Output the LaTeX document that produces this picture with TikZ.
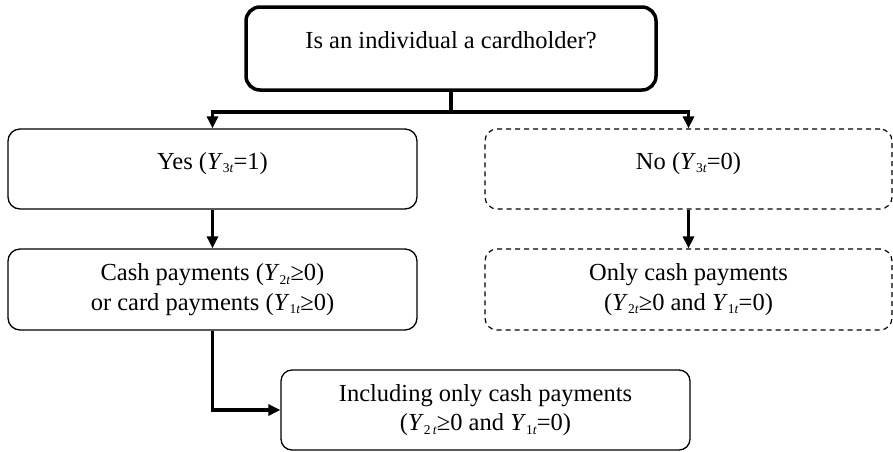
\documentclass[tikz,border=0pt]{standalone}
\usepackage{fontspec}
\setmainfont{Liberation Serif}
\usetikzlibrary{arrows.meta}
\newcommand{\Ysb}[1]{\textit{Y}\raisebox{-3.5pt}{\fontsize{13.5}{13.5}\selectfont #1}}
\tikzset{
  base/.style={rectangle, rounded corners=12pt, align=center, inner sep=0pt,
    font=\fontsize{24.5}{29.5}\selectfont},
  solidbox/.style={base, draw, line width=1.3pt},
  dashbox/.style={base, draw, line width=1.2pt, dash pattern=on 5pt off 4pt},
  topbox/.style={base, draw, line width=3.5pt, rounded corners=14pt},
  oneline/.style={text height=17pt, text depth=17pt},
  conn/.style={line width=3.2pt, -{Triangle[length=12pt,width=11pt]}},
  plainconn/.style={line width=3.2pt}
}
\begin{document}
\begin{tikzpicture}[x=1pt,y=-1pt]
\useasboundingbox (0,0) rectangle (893,451);
\node[topbox, oneline, minimum width=410pt, minimum height=83pt] (top) at (451,48.5)
  {Is an individual a cardholder?};
\node[solidbox, oneline, minimum width=409pt, minimum height=80pt] (yes) at (212.5,169)
  {Yes (\Ysb{3\textit{t}}=1)};
\node[dashbox, oneline, minimum width=407pt, minimum height=80pt] (no) at (688.5,169)
  {No (\Ysb{3\textit{t}}=0)};
\node[solidbox, minimum width=409pt, minimum height=81pt] (cash) at (212.5,289.5)
  {Cash payments (\Ysb{2\textit{t}}≥0)\\or card payments (\Ysb{1\textit{t}}≥0)};
\node[dashbox, minimum width=407pt, minimum height=81pt] (only) at (688.5,289.5)
  {Only cash payments\\(\Ysb{2\textit{t}}≥0 and \Ysb{1\textit{t}}=0)};
\node[solidbox, rounded corners=11pt, minimum width=409pt, minimum height=80pt] (incl) at (485.5,410)
  {Including only cash payments\\(\Ysb{2\,\textit{t}}≥0 and \Ysb{1\textit{t}}=0)};
\coordinate (split) at (451,112);
\draw[plainconn] (top.south) -- (split);
\draw[conn] (split) -| (yes.north);
\draw[conn] (split) -| (no.north);
\draw[conn] (yes.south) -- (cash.north);
\draw[conn] (no.south) -- (only.north);
\draw[conn] (cash.south) |- (incl.west);
\end{tikzpicture}
\end{document}
